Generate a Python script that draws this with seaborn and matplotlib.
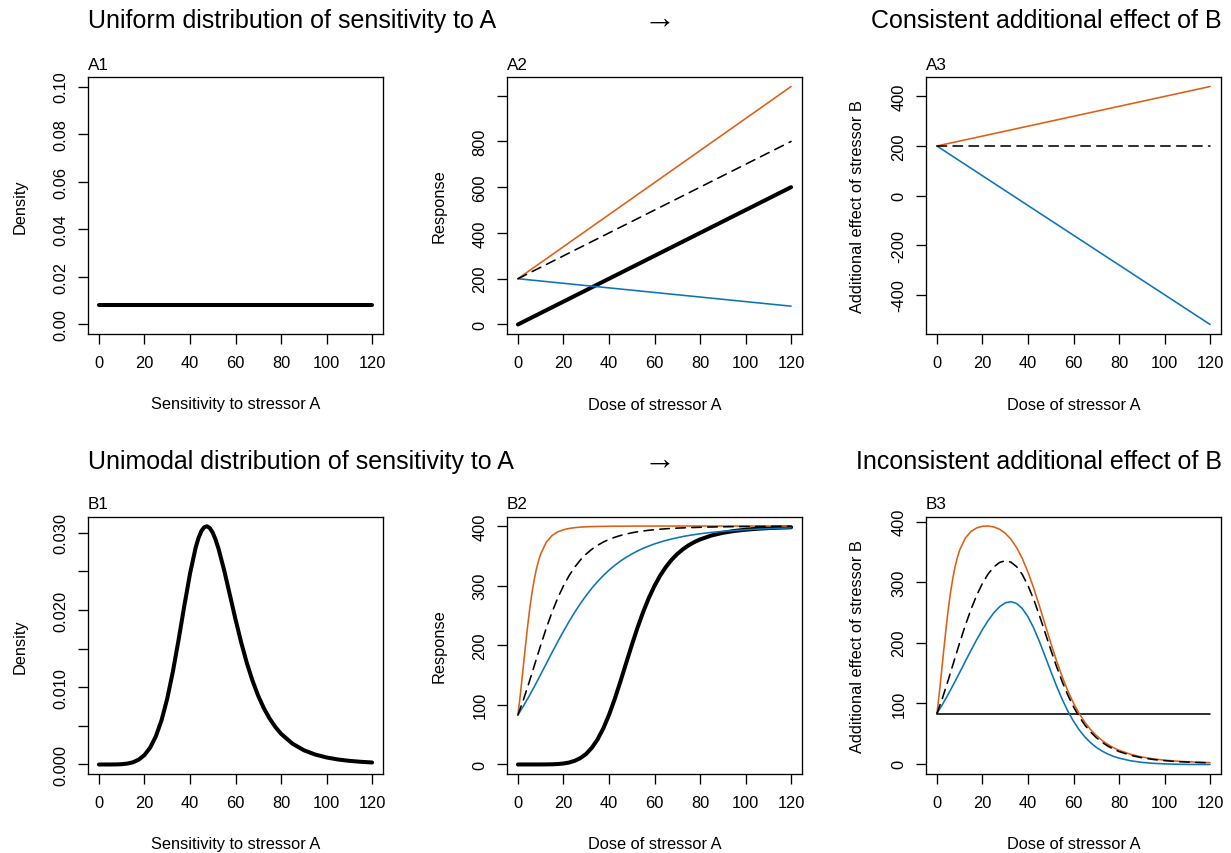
import matplotlib
matplotlib.use("Agg")
import matplotlib.pyplot as plt
import seaborn as sns

# ---------------------------------------------------------------------------
# Data
# ---------------------------------------------------------------------------
X_RANGE = [0, 120]
X_TICKS = [0, 20, 40, 60, 80, 100, 120]

# Row A: uniform sensitivity to stressor A (straight lines, end points)
a1_density = [0.00833, 0.00833]
a2_response_a = [0, 600]
a2_additive = [200, 800]
a2_synergistic = [200, 1040]
a2_antagonistic = [200, 80]
a3_additive = [200, 200]
a3_synergistic = [200, 440]
a3_antagonistic = [200, -520]

# Row B: unimodal sensitivity to stressor A
b1_x = [0, 2.5, 5, 7.5, 10, 12.5, 15, 17.5, 20, 22.5,
        25, 27.5, 30, 32.5, 35, 37.5, 40, 42.5, 43.75, 45,
        46.25, 47.5, 48.75, 50, 51.25, 52.5, 55, 57.5, 60, 62.5,
        65, 67.5, 70, 72.5, 75, 77.5, 80, 85, 90, 95,
        100, 105, 110, 115, 120]
b1_density = [0, 0, 0, 0.00001, 0.00004, 0.00012, 0.00029, 0.00063, 0.00122, 0.00218,
              0.00364, 0.00572, 0.00852, 0.01204, 0.01615, 0.02052, 0.02468, 0.02808, 0.02932, 0.03021,
              0.03072, 0.03084, 0.03059, 0.03000, 0.02911, 0.02797, 0.02516, 0.02199, 0.01879, 0.01580,
              0.01312, 0.01082, 0.00887, 0.00726, 0.00594, 0.00486, 0.00398, 0.00270, 0.00185, 0.00129,
              0.00091, 0.00065, 0.00047, 0.00035, 0.00026]

b_x = [0, 2.5, 5, 7.5, 10, 12.5, 15, 17.5, 20, 22.5,
       25, 27.5, 30, 32.5, 35, 37.5, 40, 42.5, 45, 47.5,
       50, 52.5, 55, 57.5, 60, 62.5, 65, 67.5, 70, 72.5,
       75, 77.5, 80, 85, 90, 95, 100, 105, 110, 115,
       120]
b2_response_a = [0, 0, 0, 0, 0.03, 0.1, 0.3, 0.7, 1.6, 3.3,
                 6.2, 10.8, 17.8, 28.1, 42.1, 60.4, 83.1, 109.5, 138.8, 169.5,
                 200.0, 229.1, 255.7, 279.3, 299.6, 316.9, 331.3, 343.3, 353.1, 361.1,
                 367.7, 373.1, 377.5, 384.1, 388.6, 391.7, 393.8, 395.4, 396.5, 397.3,
                 397.9]
b2_additive = [83.1, 109.5, 138.8, 169.5, 200.0, 229.1, 255.7, 279.3, 299.6, 316.9,
               331.3, 343.3, 353.1, 361.1, 367.7, 373.1, 377.5, 381.1, 384.1, 386.5,
               388.6, 390.3, 391.7, 392.9, 393.8, 394.7, 395.4, 396.0, 396.5, 396.9,
               397.3, 397.6, 397.9, 398.4, 398.7, 399.0, 399.2, 399.3, 399.5, 399.6,
               399.6]
b2_antagonistic = [83.1, 98.6, 115.2, 132.8, 151.0, 169.5, 187.9, 206.0, 223.4, 240.0,
                   255.7, 270.2, 283.6, 295.8, 306.9, 316.9, 325.9, 333.9, 341.1, 347.4,
                   353.1, 358.1, 362.6, 366.5, 370.0, 373.1, 375.8, 378.3, 380.4, 382.4,
                   384.1, 385.6, 387.0, 389.3, 391.1, 392.6, 393.8, 394.8, 395.6, 396.3,
                   396.9]

b_fast_x = [0, 1, 2, 3, 4, 5, 6, 7, 8, 9, 10,
            12.5, 15, 17.5, 20, 22.5, 25, 27.5, 30, 32.5, 35,
            37.5, 40, 42.5, 45, 47.5, 50, 52.5, 55, 57.5, 60,
            62.5, 65, 67.5, 70, 72.5, 75, 77.5, 80,
            85, 90, 95, 100, 105, 110, 115, 120]
b2_synergistic = [83.1, 115.2, 151.0, 187.9, 223.4, 255.7, 283.6, 306.9, 325.9, 341.1, 353.1,
                  373.1, 384.1, 390.3, 393.8, 396.0, 397.3, 398.2, 398.7, 399.1, 399.3,
                  399.5, 399.6, 399.7, 399.8, 399.8, 399.9, 399.9, 399.9, 399.9, 399.9,
                  400.0, 400.0, 400.0, 400.0, 400.0, 400.0, 400.0, 400.0,
                  400.0, 400.0, 400.0, 400.0, 400.0, 400.0, 400.0, 400.0]

b3_additive = [83.1, 109.5, 138.8, 169.5, 200.0, 229.0, 255.4, 278.6, 298.0, 313.6,
               325.1, 332.5, 335.3, 333.0, 325.6, 312.7, 294.4, 271.6, 245.3, 217.0,
               188.6, 161.2, 136.0, 113.6, 94.2, 77.8, 64.1, 52.7, 43.4, 35.8,
               29.6, 24.5, 20.4, 14.3, 10.1, 7.3, 5.4, 3.9, 3.0, 2.3,
               1.7]
b3_antagonistic = [83.1, 98.6, 115.2, 132.8, 151.0, 169.4, 187.6, 205.3, 221.8, 236.7,
                   249.5, 259.4, 265.8, 267.8, 264.8, 256.5, 242.8, 224.4, 202.3, 177.9,
                   153.1, 129.0, 106.9, 87.2, 70.4, 56.2, 44.5, 35.0, 27.3, 21.3,
                   16.4, 12.5, 9.5, 5.2, 2.5, 0.9, 0.0, -0.6, -0.9, -1.0,
                   -1.0]
b3_synergistic = [83.1, 115.2, 151.0, 187.9, 223.4, 255.7, 283.6, 306.9, 325.9, 341.1, 353.1,
                  373.0, 383.8, 389.6, 392.2, 392.7, 391.1, 387.4, 380.9, 371.0, 357.2,
                  339.1, 316.5, 290.2, 261.0, 230.4, 199.9, 170.8, 144.2, 120.6, 100.3,
                  83.1, 68.7, 56.7, 46.9, 38.9, 32.3, 26.9, 22.5,
                  15.9, 11.4, 8.3, 6.2, 4.6, 3.5, 2.7, 2.1]
b3_b_alone = [83.1, 83.1]

# ---------------------------------------------------------------------------
# Style
# ---------------------------------------------------------------------------
ORANGE = "#DC5F14"
BLUE = "#0A74BA"
THICK = 2.9
THIN = 1.15
DASH = (0, (6, 4))
FS = 11.8
TFS = 18

sns.set_theme(style="ticks", rc={
    "axes.linewidth": 0.95,
    "axes.edgecolor": "black",
    "axes.labelcolor": "black",
    "text.color": "black",
    "xtick.major.size": 7.0,
    "ytick.major.size": 7.0,
    "xtick.major.width": 0.95,
    "ytick.major.width": 0.95,
    "xtick.color": "black",
    "ytick.color": "black",
    "axes.unicode_minus": False,
})
plt.rcParams["font.family"] = ["Liberation Sans", "DejaVu Sans"]

W, H = 1231, 854
fig = plt.figure(figsize=(W / 100, H / 100), dpi=100)


def make_axes(left, top, right, bottom):
    return fig.add_axes([left / W, 1 - bottom / H, (right - left) / W, (bottom - top) / H])


def line(ax, x, y, color="black", lw=THIN, ls="-"):
    sns.lineplot(x=x, y=y, ax=ax, color=color, linewidth=lw, linestyle=ls,
                 estimator=None, sort=False, legend=False,
                 solid_capstyle="round", dash_capstyle="round")


def dress(ax, tag, xlabel, ylabel, ylim, yticks, ylabels):
    ax.set_xlim(-4.8, 124.8)
    ax.set_ylim(*ylim)
    ax.set_xticks(X_TICKS, [str(t) for t in X_TICKS], fontsize=FS)
    ax.set_yticks(yticks, ylabels, fontsize=FS, rotation=90,
                  va="center", ha="right", rotation_mode="default")
    ax.tick_params(axis="x", pad=8)
    ax.tick_params(axis="y", pad=7)
    for side in ["top", "right", "left", "bottom"]:
        ax.spines[side].set_visible(True)
    ax.set_xlabel(xlabel, fontsize=FS)
    ax.set_ylabel(ylabel, fontsize=FS)
    bw = ax.get_position().width * W
    bh = ax.get_position().height * H
    ax.xaxis.set_label_coords(0.5, -70 / bh)
    ax.xaxis.label.set_va("center")
    ax.yaxis.set_label_coords(-68 / bw, 0.5)
    ax.yaxis.label.set_va("center")
    ax.yaxis.label.set_ha("center")
    ax.yaxis.label.set_rotation_mode("default")
    ax.text(0.0, 1 + 8 / bh, tag, transform=ax.transAxes, ha="left",
            va="baseline", fontsize=FS + 0.5)


LEFTS = [88, 507, 926]
PW = 295
TOP_A, BOT_A = 78, 335
TOP_B, BOT_B = 517.5, 775

axA1 = make_axes(LEFTS[0], TOP_A, LEFTS[0] + PW, BOT_A)
axA2 = make_axes(LEFTS[1], TOP_A, LEFTS[1] + PW, BOT_A)
axA3 = make_axes(LEFTS[2], TOP_A, LEFTS[2] + PW, BOT_A)
axB1 = make_axes(LEFTS[0], TOP_B, LEFTS[0] + PW, BOT_B)
axB2 = make_axes(LEFTS[1], TOP_B, LEFTS[1] + PW, BOT_B)
axB3 = make_axes(LEFTS[2], TOP_B, LEFTS[2] + PW, BOT_B)

# A1: uniform density
line(axA1, X_RANGE, a1_density, lw=THICK)
dress(axA1, "A1", "Sensitivity to stressor A", "Density", (-0.004, 0.104),
      [0, 0.02, 0.04, 0.06, 0.08, 0.10], ["0.00", "0.02", "0.04", "0.06", "0.08", "0.10"])

# A2: responses
line(axA2, X_RANGE, a2_response_a, lw=THICK)
line(axA2, X_RANGE, a2_synergistic, color=ORANGE)
line(axA2, X_RANGE, a2_antagonistic, color=BLUE)
line(axA2, X_RANGE, a2_additive, ls=DASH)
dress(axA2, "A2", "Dose of stressor A", "Response", (-41.6, 1081.6),
      [0, 200, 400, 600, 800, 1000], ["0", "200", "400", "600", "800", ""])

# A3: additional effect of B
line(axA3, X_RANGE, a3_synergistic, color=ORANGE)
line(axA3, X_RANGE, a3_antagonistic, color=BLUE)
line(axA3, X_RANGE, a3_additive, ls=DASH)
dress(axA3, "A3", "Dose of stressor A", "Additional effect of stressor B", (-558.4, 478.4),
      [-400, -200, 0, 200, 400], ["-400", "-200", "0", "200", "400"])

# B1: unimodal density
line(axB1, b1_x, b1_density, lw=THICK)
dress(axB1, "B1", "Sensitivity to stressor A", "Density", (-0.00123, 0.0321),
      [0, 0.005, 0.010, 0.015, 0.020, 0.025, 0.030],
      ["0.000", "", "0.010", "", "0.020", "", "0.030"])

# B2: responses
line(axB2, b_x, b2_response_a, lw=THICK)
line(axB2, b_fast_x, b2_synergistic, color=ORANGE)
line(axB2, b_x, b2_antagonistic, color=BLUE)
line(axB2, b_x, b2_additive, ls=DASH)
dress(axB2, "B2", "Dose of stressor A", "Response", (-16, 416),
      [0, 100, 200, 300, 400], ["0", "100", "200", "300", "400"])

# B3: additional effect of B
line(axB3, X_RANGE, b3_b_alone)
line(axB3, b_fast_x, b3_synergistic, color=ORANGE)
line(axB3, b_x, b3_antagonistic, color=BLUE)
line(axB3, b_x, b3_additive, ls=DASH)
dress(axB3, "B3", "Dose of stressor A", "Additional effect of stressor B", (-16.7, 408.4),
      [0, 100, 200, 300, 400], ["0", "100", "200", "300", "400"])

# Row headings
for y, left_txt, right_txt in [(21, "Uniform distribution of sensitivity to A",
                                "Consistent additional effect of B"),
                               (462, "Unimodal distribution of sensitivity to A",
                                "Inconsistent additional effect of B")]:
    fig.text(88 / W, 1 - y / H, left_txt, ha="left", va="center", fontsize=TFS)
    fig.text(660 / W, 1 - (y - 1) / H, "\u2192", ha="center", va="center", fontsize=TFS + 5)
    fig.text(1222 / W, 1 - y / H, right_txt, ha="right", va="center", fontsize=TFS)

fig.savefig("out.png", dpi=100, facecolor="white")
